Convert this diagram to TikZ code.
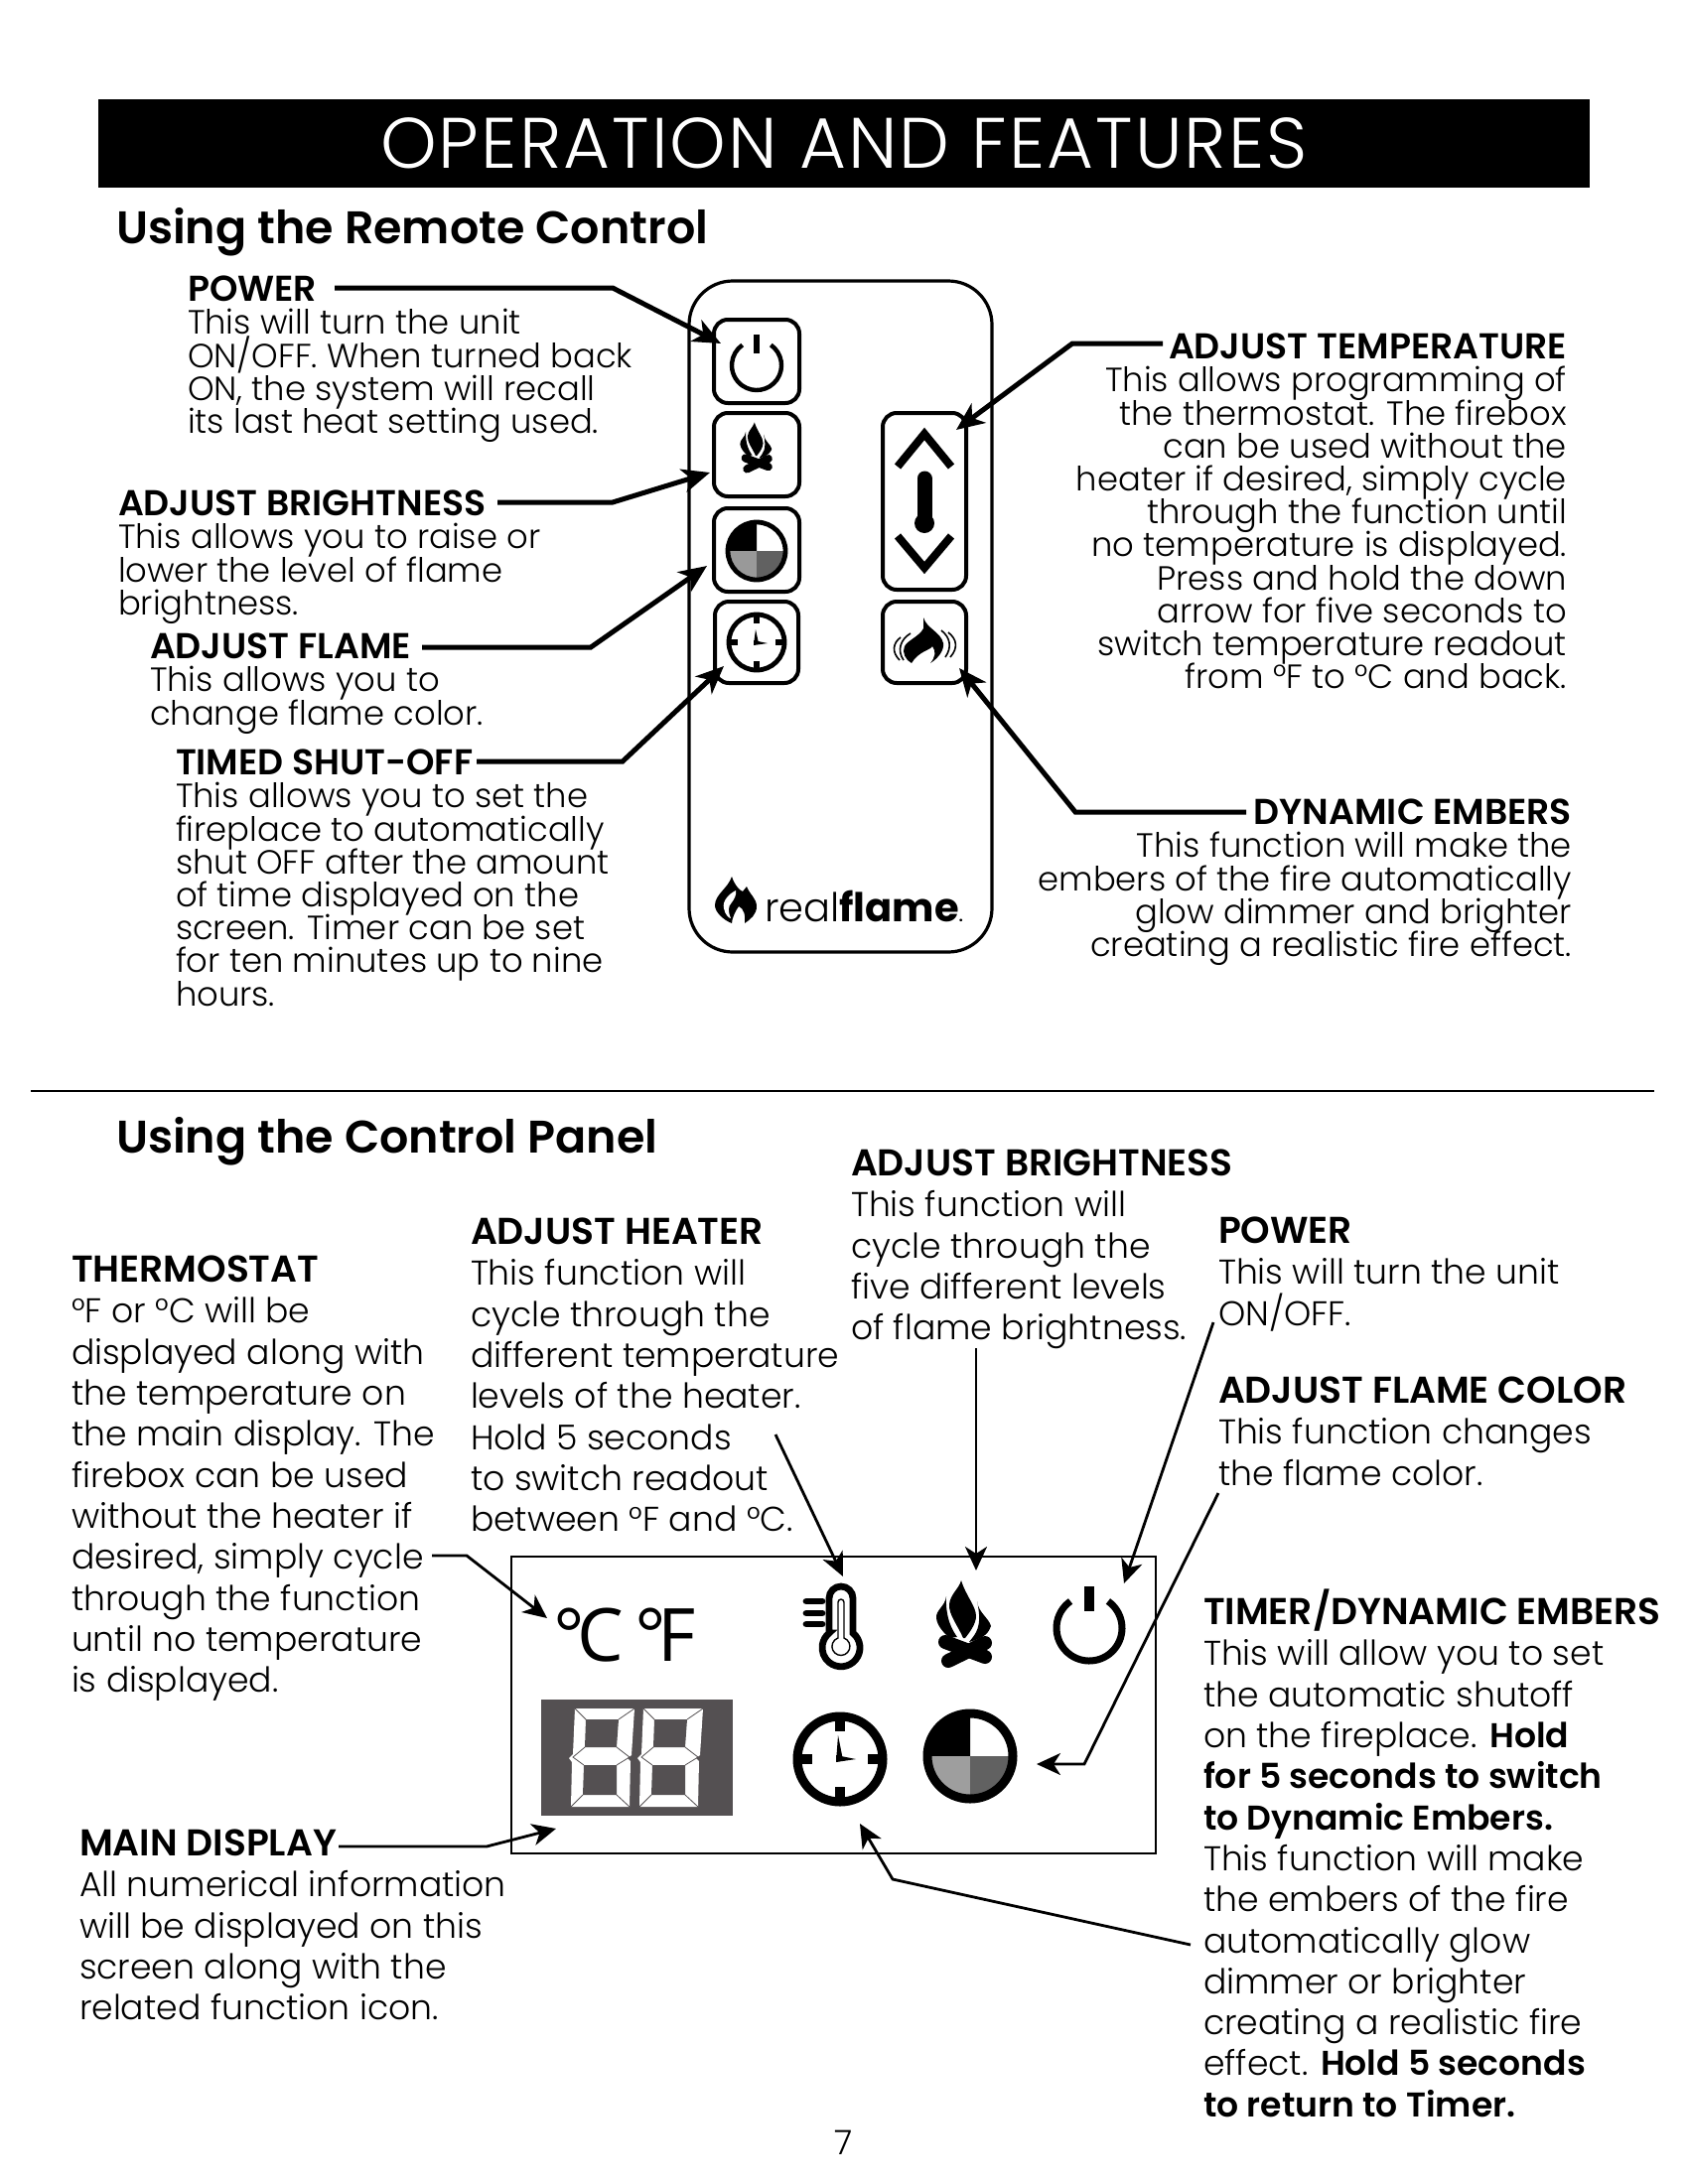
\documentclass[tikz,border=0pt]{standalone}
\usepackage{fontspec}
\setmainfont{Poppins}
\newfontfamily\lightf{Poppins Light}
\newfontfamily\medf{Poppins SemiBold}
\newfontfamily\semif{Poppins SemiBold}
\newfontfamily\boldf{Poppins Bold}
\newfontfamily\titlef[LetterSpace=3]{Poppins Light}
\newfontfamily\opensansf{Open Sans}
\usetikzlibrary{arrows.meta}
\definecolor{dsp}{HTML}{545052}
\tikzset{
  every node/.style={inner sep=0pt,outer sep=0pt,execute at begin node={\lineskiplimit=-100pt\relax}},
  remtxt/.style={font=\fontsize{16.9}{16.6}\selectfont\lightf,anchor=north west,align=left},
  remtxtr/.style={remtxt,anchor=north east,align=right},
  paneltxt/.style={font=\fontsize{17.3}{20.65}\selectfont\lightf,anchor=north west,align=left},
  sectitle/.style={font=\fontsize{23}{24}\selectfont\semif,anchor=base west},
  btn/.style={draw=black,line width=2pt,rounded corners=7pt,minimum width=#1,anchor=north west},
  rarrow/.style={line width=2.5pt,-{Stealth[length=14pt,width=12pt,inset=4pt]}},
  parrow/.style={line width=1.4pt,-{Stealth[length=12pt,width=11pt,inset=3.5pt]}}
}
\newcommand{\hd}[1]{{\medf\fontsize{18.1}{16}\selectfont #1}}
\newcommand{\hp}[1]{{\medf\fontsize{18.8}{16}\selectfont #1}}
\newcommand{\bd}[1]{{\medf #1}}
\newcommand{\campfireicon}[3]{\begin{scope}[shift={(#1,#2)},scale=#3]
  \fill (-2,-44) .. controls (-4,-36) and (-13,-30) .. (-14,-20) .. controls (-15,-10) and (-5,2) .. (0,14) -- (2,14) .. controls (6,9) and (13,0) .. (13,-8) .. controls (13,-18) and (3,-28) .. (-2,-44) -- cycle;
  \fill (-17,-28) .. controls (-18,-18) and (-28,-14) .. (-27,-6) .. controls (-26,2) and (-20,8) .. (-14,14) -- (-6,13) .. controls (-11,6) and (-18,-6) .. (-17,-28) -- cycle;
  \fill (14,-23) .. controls (15,-12) and (26,-6) .. (28,2) .. controls (26,8) and (22,14) .. (6,18) .. controls (12,10) and (20,4) .. (14,-23) -- cycle;
  \draw[line width=#3*7pt,line cap=round] (-18,18) -- (22,33);
  \draw[line width=#3*7pt,line cap=round] (-15,37) -- (22,19);
\end{scope}}
\newcommand{\emberflame}[3]{\begin{scope}[shift={(#1,#2)},scale=#3]
  \fill (-1,-23) .. controls (2,-12) and (17,-8) .. (19,3) .. controls (20,10) and (14,18) .. (6,23) .. controls (11,17) and (12,11) .. (8,6) .. controls (6,10) and (-6,11) .. (-13,23) .. controls (-19,20) and (-23,12) .. (-20,6) .. controls (-17,0) and (-5,-4) .. (-1,-12) -- cycle;
\end{scope}}
\newcommand{\logoflame}[3]{\begin{scope}[shift={(#1,#2)},scale=#3]
  \fill (-4,-24) .. controls (-1,-15) and (4,-10) .. (7,-9) -- (11,-14) .. controls (14,-6) and (21,-2) .. (21,6) .. controls (21,14) and (15,19) .. (9,23) .. controls (10,15) and (8,8) .. (3,6) .. controls (0,10) and (-4,18) .. (-4,23) .. controls (-12,20) and (-21,12) .. (-21,5) .. controls (-21,-6) and (-8,-12) .. (-4,-24) -- cycle;
  \fill[white] (0,-10) .. controls (-6,-7) and (-14,0) .. (-12,8) .. controls (-11,14) and (-7,18) .. (-5,18) .. controls (-8,11) and (-8,6) .. (-4,2) .. controls (-2,-1) and (1,-5) .. (0,-10) -- cycle;
\end{scope}}
\newcommand{\sevenseg}[2]{\begin{scope}[shift={(#1,#2)}]
  \fill[white] (4,0) -- (64,0) -- (61,47) -- (57,50) -- (60,53) -- (59,99) -- (0,99) -- (1,54) -- (-2,50) -- (2,46) -- cycle;
  \fill[dsp] (15,11) -- (48,11) -- (46,39) -- (14,39) -- cycle;
  \fill[dsp] (13,57) -- (46,57) -- (46,87) -- (12,87) -- cycle;
  \draw[dsp,line width=.4pt] (4,0) -- (15,11) (64,0) -- (48,11) (14,39) -- (2,49) -- (13,57) (46,39) -- (59,49) -- (46,57) (12,87) -- (0,99) (46,87) -- (59,99);
\end{scope}}
\begin{document}
\begin{tikzpicture}[x=0.5pt,y=-0.5pt]
\useasboundingbox (0,0) rectangle (1700,2200);
\fill[white] (0,0) rectangle (1700,2200);
% header
\node[fill=black,minimum width=751pt,minimum height=44.5pt,anchor=north west] (hdr) at (98.5,100) {};
\node[font=\fontsize{36}{40}\selectfont\titlef,text=white] (title) at (850,144) {OPERATION AND FEATURES};
\node[sectitle] (s1) at (117,245) {Using the Remote Control};
\node[sectitle] (s2) at (117,1161) {Using the Control Panel};
\coordinate (ruleL) at (31,1099); \coordinate (ruleR) at (1666,1099);
\draw[line width=1.3pt] (ruleL) -- (ruleR);
% remote body
\node[draw=black,line width=1.6pt,rounded corners=22pt,minimum width=152.5pt,minimum height=338pt,anchor=north west] (remote) at (694,283) {};
\node[btn=43pt,minimum height=42pt] (bpower) at (719,322) {};
\node[btn=43pt,minimum height=42pt] (bflame) at (719,416) {};
\node[btn=43pt,minimum height=42pt] (bcolor) at (719,512) {};
\node[btn=42pt,minimum height=41pt] (btimer) at (720,606) {};
\node[btn=42pt,minimum height=89pt] (btemp) at (889,416) {};
\node[btn=42pt,minimum height=41pt] (bember) at (889,606) {};
% remote power icon
\draw[line width=2.2pt] ([shift={(-55:25)}]762,368) arc[start angle=-55,end angle=235,radius=25];
\draw[line width=2.8pt] (762,337) -- (762,356);
\campfireicon{761}{451}{0.58}
% remote colour disc
\fill[white] (762,555) circle[radius=30];
\fill (762,555) -- +(180:30) arc[start angle=180,end angle=270,radius=30] -- cycle;
\fill[black!40] (762,555) -- +(90:30) arc[start angle=90,end angle=180,radius=30] -- cycle;
\fill[black!62] (762,555) -- +(0:30) arc[start angle=0,end angle=90,radius=30] -- cycle;
\draw[line width=2.4pt] (762,555) circle[radius=29];
% remote timer
\draw[line width=2.4pt] (762,647) circle[radius=28];
\draw[line width=3pt] (762,619) -- (762,628) (762,666) -- (762,675) (734,647) -- (743,647) (781,647) -- (790,647);
\fill (761,634) -- (764,648) -- (759,649) -- cycle;
\fill (759,645) -- (773,648) -- (759,650) -- cycle;
% temperature
\draw[line width=4pt] (904,470) -- (931,437) -- (958,470);
\draw[line width=4pt] (904,540) -- (931,572) -- (958,540);
\draw[line width=7.5pt,line cap=round] (931,482) -- (931,525);
\fill (931,527) circle[radius=10];
% ember button
\emberflame{931}{645}{1}
\draw[line width=.8pt] (917,638) .. controls (907,644) and (903,655) .. (910,665) (907,642) .. controls (899,648) and (898,657) .. (906,665) (948,635) .. controls (957,642) and (959,652) .. (952,662) (955,637) .. controls (964,644) and (965,653) .. (957,662);
% logo
\logoflame{741}{907}{1}
\node[anchor=base west,font=\fontsize{20}{24}\selectfont] (logo) at (770,928) {{\lightf real}{\boldf flame}{\boldf\fontsize{7}{8}\selectfont.}};
% remote texts
\node[remtxt] (t1) at (189,278) {\hd{POWER}\\This will turn the unit\\ON/OFF. When turned back\\ON, the system will recall\\its last heat setting used.};
\node[remtxt] (t2) at (119,494) {\hd{ADJUST BRIGHTNESS}\\This allows you to raise or\\lower the level of flame\\brightness.};
\node[remtxt] (t3) at (151,638) {\hd{ADJUST FLAME}\\This allows you to\\change flame color.};
\node[remtxt] (t4) at (177,755) {\hd{TIMED SHUT-OFF}\\This allows you to set the\\fireplace to automatically\\shut OFF after the amount\\of time displayed on the\\screen. Timer can be set\\for ten minutes up to nine\\hours.};
\node[remtxtr] (t5) at (1578,336) {\hd{ADJUST TEMPERATURE}\\This allows programming of\\the thermostat. The firebox\\can be used without the\\heater if desired, simply cycle\\through the function until\\no temperature is displayed.\\Press and hold the down\\arrow for five seconds to\\switch temperature readout\\from °F to °C and back.};
\node[remtxtr] (t6) at (1583,805) {\hd{DYNAMIC EMBERS}\\This function will make the\\embers of the fire automatically\\glow dimmer and brighter\\creating a realistic fire effect.};
% remote connectors
\coordinate (a1) at (337,290); \coordinate (a1e) at (617,290); \coordinate (a1t) at (726,346);
\draw[rarrow] (a1) -- (a1e) -- (a1t);
\coordinate (a2) at (501,506); \coordinate (a2e) at (617,506); \coordinate (a2t) at (715,476);
\draw[rarrow] (a2) -- (a2e) -- (a2t);
\coordinate (a3) at (425,652); \coordinate (a3e) at (595,652); \coordinate (a3t) at (712,570);
\draw[rarrow] (a3) -- (a3e) -- (a3t);
\coordinate (a4) at (480,767); \coordinate (a4e) at (627,767); \coordinate (a4t) at (729,671);
\draw[rarrow] (a4) -- (a4e) -- (a4t);
\coordinate (a5) at (1171,346); \coordinate (a5e) at (1080,346); \coordinate (a5t) at (963,433);
\draw[rarrow] (a5) -- (a5e) -- (a5t);
\coordinate (a6) at (1255,818); \coordinate (a6e) at (1083,818); \coordinate (a6t) at (966,673);
\draw[rarrow] (a6) -- (a6e) -- (a6t);
% panel
\node[draw=black,line width=1.3pt,minimum width=324.5pt,minimum height=149.5pt,anchor=north west] (panel) at (515,1568) {};
\node[font=\fontsize{37}{40}\selectfont\opensansf,anchor=base west] (cf) at (557,1673) {°\kern-3.5pt C\kern-4pt\ °\kern-4.4pt F};
% thermometer
\draw[line width=3.4pt,fill=white] (835,1645) -- (835,1610) arc[start angle=180,end angle=360,radius=12] -- (859,1645) arc[start angle=-51,end angle=231,radius=19] -- cycle;
\draw[line width=.7pt] (844,1650) -- (844,1614) arc[start angle=180,end angle=360,radius=3] -- (850,1650) arc[start angle=-70,end angle=250,radius=9] -- cycle;
\draw[line width=3.4pt,line cap=round] (812,1613) -- (828,1613) (812,1625) -- (828,1625) (812,1636) -- (828,1636);
\campfireicon{970}{1636}{1}
% panel power
\draw[line width=3.5pt] ([shift={(-55:33)}]1097,1640) arc[start angle=-55,end angle=235,radius=33];
\draw[line width=5pt] (1097,1598) -- (1097,1623);
% display
\node[fill=dsp,minimum width=96.5pt,minimum height=58.5pt,anchor=north west] (disp) at (545,1712) {};
\sevenseg{575}{1721}
\sevenseg{644}{1721}
% clock
\draw[line width=4.5pt] (846,1772) circle[radius=43];
\draw[line width=5pt] (846,1730) -- (846,1744) (846,1800) -- (846,1814) (804,1772) -- (818,1772) (874,1772) -- (888,1772);
\fill (844,1748) -- (849,1773) -- (842,1775) -- cycle;
\fill (842,1768) -- (862,1772) -- (842,1775) -- cycle;
% colour disc
\fill[white] (977,1769) circle[radius=46];
\fill (977,1769) -- +(180:46) arc[start angle=180,end angle=270,radius=46] -- cycle;
\fill[black!38] (977,1769) -- +(90:46) arc[start angle=90,end angle=180,radius=46] -- cycle;
\fill[black!62] (977,1769) -- +(0:46) arc[start angle=0,end angle=90,radius=46] -- cycle;
\draw[line width=4.5pt] (977,1769) circle[radius=43];
% panel texts
\node[paneltxt] (p1) at (72,1265) {\hp{THERMOSTAT}\\°F or °C will be\\displayed along with\\the temperature on\\the main display. The\\firebox can be used\\without the heater if\\desired, simply cycle\\through the function\\until no temperature\\is displayed.};
\node[paneltxt] (p2) at (474,1227) {\hp{ADJUST HEATER}\\This function will\\cycle through the\\different temperature\\levels of the heater.\\Hold 5 seconds\\to switch readout\\between °F and °C.};
\node[paneltxt] (p3) at (857,1158) {\hp{ADJUST BRIGHTNESS}\\This function will\\cycle through the\\five different levels\\of flame brightness.};
\node[paneltxt] (p4) at (1227,1226) {\hp{POWER}\\This will turn the unit\\ON/OFF.};
\node[paneltxt] (p5) at (1227,1387) {\hp{ADJUST FLAME COLOR}\\This function changes\\the flame color.};
\node[paneltxt] (p6) at (1212,1601) {\hp{TIMER/DYNAMIC EMBERS}\\This will allow you to set\\the automatic shutoff\\on the fireplace. \bd{Hold}\\\bd{for 5 seconds to switch}\\\bd{to Dynamic Embers.}\\This function will make\\the embers of the fire\\automatically glow\\dimmer or brighter\\creating a realistic fire\\effect. \bd{Hold 5 seconds}\\\bd{to return to Timer.}};
\node[paneltxt] (p7) at (80,1843) {\hp{MAIN DISPLAY}\\All numerical information\\will be displayed on this\\screen along with the\\related function icon.};
\node[font=\fontsize{17}{20}\selectfont\lightf] (pg) at (850,2158) {7};
% panel connectors
\coordinate (c1) at (435,1567); \coordinate (c1e) at (470,1567); \coordinate (c1t) at (551,1630);
\draw[parrow] (c1) -- (c1e) -- (c1t);
\coordinate (c2) at (781,1445); \coordinate (c2t) at (849,1588);
\draw[parrow] (c2) -- (c2t);
\coordinate (c3) at (983,1358); \coordinate (c3t) at (983,1582);
\draw[parrow] (c3) -- (c3t);
\coordinate (c4) at (1222,1332); \coordinate (c4t) at (1132,1595);
\draw[parrow] (c4) -- (c4t);
\coordinate (c5) at (1227,1504); \coordinate (c5e) at (1092,1777); \coordinate (c5t) at (1044,1777);
\draw[parrow] (c5) -- (c5e) -- (c5t);
\coordinate (c6) at (1199,1959); \coordinate (c6e) at (899,1893); \coordinate (c6t) at (866,1837);
\draw[parrow] (c6) -- (c6e) -- (c6t);
\coordinate (c7) at (341,1860); \coordinate (c7e) at (490,1860); \coordinate (c7t) at (560,1842);
\draw[parrow] (c7) -- (c7e) -- (c7t);
\end{tikzpicture}
\end{document}
